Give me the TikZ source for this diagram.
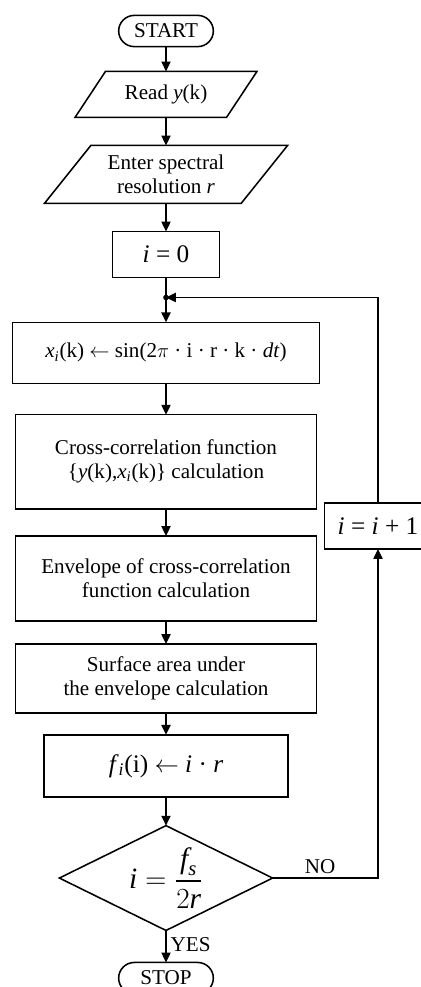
\documentclass[tikz,border=0pt]{standalone}
\usepackage{fontspec}
\setmainfont{Liberation Serif}
\usepackage{amsmath}
\usetikzlibrary{positioning,arrows.meta,shapes.geometric,shapes.misc}

\begin{document}
\begin{tikzpicture}[>={Triangle[length=7pt,width=6.5pt]},node distance=0.68cm,
    font=\fontsize{15}{17}\selectfont,x=0.025cm,y=-0.025cm,line width=1.1pt,
    every node/.style={outer sep=0pt},
    box/.style={draw,align=center,minimum width=7.53cm},
    io/.style={draw,align=center,trapezium,trapezium stretches=true,
      trapezium left angle=51,trapezium right angle=129},
    term/.style={draw,rounded rectangle,minimum width=2.6cm,minimum height=0.78cm,inner ysep=0pt},
    decision/.style={draw,diamond,aspect=2,minimum width=5.33cm,minimum height=2.62cm,inner sep=0pt},
    big/.style={font=\fontsize{18}{21}\selectfont}]
  \useasboundingbox (0,0) rectangle (421,987);
  \clip (0,0) rectangle (421,987);
  \node[term] (start) at (166,31) {START};
  \node[io,below=0.62cm of start,minimum width=4.58cm,minimum height=1.15cm] (read) {Read \textit{y}(k)};
  \node[io,below=0.7cm of read,minimum width=6.08cm,minimum height=1.45cm] (enter) {Enter spectral\\resolution \textit{r}};
  \node[box,big,below=0.7cm of enter,minimum width=2.68cm,minimum height=1.15cm] (i0) {\textit{i} = 0};
  \coordinate[below=0.5cm of i0] (join);
  \node[box,below=1.12cm of i0,minimum width=7.68cm,minimum height=1.53cm] (xi)
    {\textit{x}\textsubscript{\textit{i}}(k) $\leftarrow$ sin(2$\pi$ · i · r · k · \textit{dt})};
  \node[box,below=0.78cm of xi,minimum height=2.35cm] (cc)
    {Cross-correlation function\\\{\textit{y}(k),\textit{x}\textsubscript{\textit{i}}(k)\} calculation};
  \node[box,below=0.68cm of cc,minimum height=2.12cm] (env)
    {Envelope of cross-correlation\\function calculation};
  \node[box,below=0.58cm of env,minimum height=1.72cm] (surf)
    {Surface area under\\the envelope calculation};
  \node[box,big,below=0.55cm of surf,minimum width=6.1cm,minimum height=1.55cm] (fi)
    {\textit{f}\textsubscript{\textit{i}}(i) $\leftarrow$ \textit{i} · \textit{r}};
  \node[decision,font=\fontsize{21}{24}\selectfont,below=0.72cm of fi] (dec)
    {$\textit{i} = \dfrac{\textit{f}_{\textit{s}}}{2\textit{r}}$};
  \node[term,below=0.8cm of dec] (stop) {STOP};
  \node[box,big,minimum width=2.68cm,minimum height=1.15cm] (inc) at (378,526)
    {\textit{i} = \textit{i} + 1};

  \draw[->] (start) -- (read);
  \draw[->] (read) -- (enter);
  \draw[->] (enter) -- (i0);
  \draw[->] (i0) -- (xi);
  \fill (join) circle (2pt);
  \draw[->] (xi) -- (cc);
  \draw[->] (cc) -- (env);
  \draw[->] (env) -- (surf);
  \draw[->] (surf) -- (fi);
  \draw[->] (fi) -- (dec);
  \draw[->] (dec) -- node[right,pos=0.45] {YES} (stop);
  \draw[->] (dec.east) -- node[above,pos=0.45] {NO} (dec.east -| inc) -- (inc);
  \draw[->] (inc) |- (join);
\end{tikzpicture}
\end{document}
